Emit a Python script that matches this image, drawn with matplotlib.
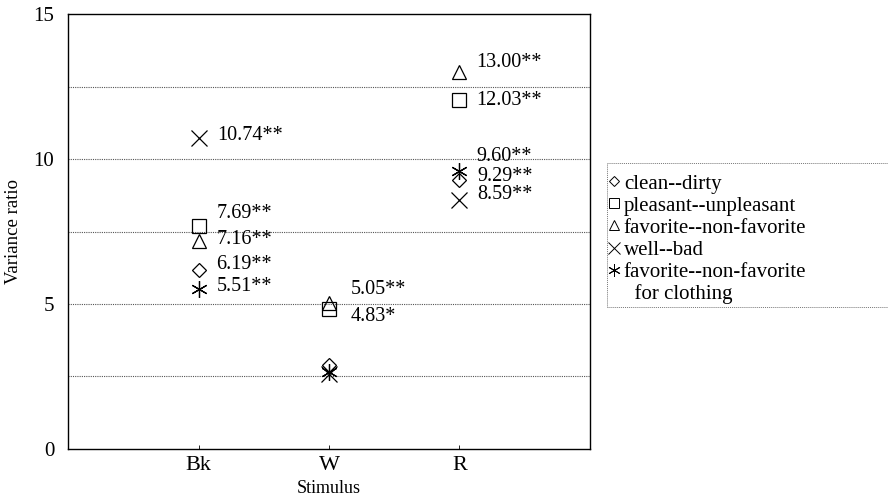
import matplotlib.pyplot as plt
from matplotlib.patches import Rectangle

plt.rcParams['font.family'] = ['Liberation Serif', 'DejaVu Serif']

# Data
stimuli = ['Bk', 'W', 'R']
clean_dirty = [6.19, 2.90, 9.29]
pleasant = [7.69, 4.83, 12.03]
favorite = [7.16, 5.05, 13.00]
well_bad = [10.74, 2.60, 8.59]
clothing = [5.51, 2.65, 9.60]

clean_dirty_lbl = ['6.19**', None, '9.29**']
pleasant_lbl = ['7.69**', '4.83*', '12.03**']
favorite_lbl = ['7.16**', '5.05**', '13.00**']
well_bad_lbl = ['10.74**', None, '8.59**']
clothing_lbl = ['5.51**', None, '9.60**']

legend_names = ['clean--dirty', 'pleasant--unpleasant', 'favorite--non-favorite',
                'well--bad', 'favorite--non-favorite', '  for clothing']

# marker style per series and label offsets (pixels: dx, dy up)
series = [
    (clean_dirty, clean_dirty_lbl, 'D', 7),
    (pleasant, pleasant_lbl, 's', 10),
    (favorite, favorite_lbl, '^', 10),
    (well_bad, well_bad_lbl, 'x', 11),
    (clothing, clothing_lbl, (6, 2, 0), 12),
]
offsets = [
    [(18, 5), None, (18, 3)],
    [(18, 13), (22, -8), (17, 0)],
    [(18, 2), (22, 13), (17, 10)],
    [(19, 2), None, (18, 5)],
    [(18, 3), None, (17, 14)],
]

fig = plt.figure(figsize=(8.88, 5.03), dpi=100)
ax = fig.add_axes([0.0766, 0.1074, 0.5878, 0.8646])

xs = list(range(1, len(stimuli) + 1))
for i, (vals, lbls, mk, ms) in enumerate(series):
    ax.plot(xs, vals, linestyle='none', marker=mk, markersize=ms,
            markerfacecolor='none', markeredgecolor='black',
            markeredgewidth=0.9, color='black', zorder=3)
    for j, (x, v, t) in enumerate(zip(xs, vals, lbls)):
        if t is None:
            continue
        dx, dy = offsets[i][j]
        ax.annotate(t, (x, v), xytext=(dx * 0.72, dy * 0.72),
                    textcoords='offset points', va='center', ha='left',
                    fontsize=14.5)

ax.set_xlim(0, 4)
ax.set_ylim(0, 15)
ax.set_xticks(xs)
ax.set_xticklabels(stimuli, fontsize=16)
ax.set_yticks([0, 5, 10, 15])
ax.set_yticklabels(['0', '5', '10', '15'], fontsize=15)
ax.tick_params(axis='x', direction='in', length=3, width=0.6, pad=5)
ax.tick_params(axis='y', length=0, pad=10)
for y in [2.5, 5, 7.5, 10, 12.5]:
    ax.axhline(y, color='#555555', linestyle=(0, (1, 1)), linewidth=0.8, zorder=1)
for s in ax.spines.values():
    s.set_linewidth(1.0)
    s.set_color('black')

ax.set_xlabel('Stimulus', fontsize=13, labelpad=4)
ax.set_ylabel('Variance ratio', fontsize=13.5, labelpad=8)

# legend with a dotted box running off the right edge
leg_handles = []
for vals, lbls, mk, ms in series:
    h, = ax.plot([], [], linestyle='none', marker=mk, markersize=ms * 0.75,
                 markerfacecolor='none', markeredgecolor='black',
                 markeredgewidth=0.7)
    leg_handles.append(h)
blank, = ax.plot([], [], linestyle='none', marker='none')
leg_handles.append(blank)
fig.legend(leg_handles, legend_names, loc='upper left',
           bbox_to_anchor=(0.686, 0.654), frameon=False, fontsize=15,
           handlelength=0.5, handletextpad=0.2, labelspacing=0.12,
           borderaxespad=0, borderpad=0)
fig.patches.append(Rectangle((0.6836, 0.390), 0.35, 0.286, transform=fig.transFigure,
                             fill=False, edgecolor='#777777', linestyle=(0, (1, 1)),
                             linewidth=0.7))

fig.savefig('out.png', dpi=100)
